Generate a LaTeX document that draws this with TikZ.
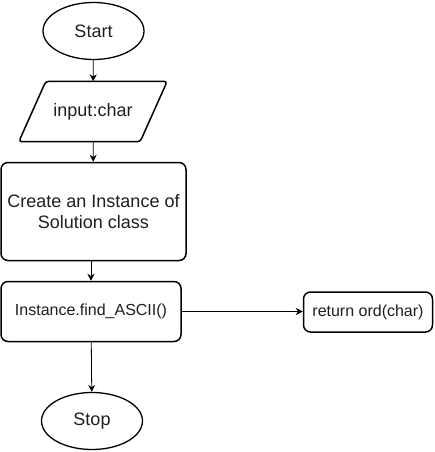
\documentclass[tikz,border=0pt]{standalone}
\usepackage{fontspec}
\setmainfont{Liberation Sans}
\usetikzlibrary{shapes.geometric,arrows.meta}
\definecolor{textgray}{RGB}{30,30,30}

\begin{document}
\begin{tikzpicture}[x=1pt,y=-1pt,font=\fontsize{18}{22}\selectfont,text=textgray,
	terminal/.style={ellipse,draw,line width=1.3pt,minimum width=101pt,minimum height=57pt,inner sep=0pt},
	iobox/.style={line width=1.5pt,rounded corners=3pt},
	procbox/.style={rectangle,draw,line width=1.5pt,rounded corners=7pt,align=center,inner sep=0pt},
	flow/.style={-{Stealth[length=7pt,width=7pt]},line width=.8pt}]
	% draw bounding box
	\useasboundingbox (0,0) rectangle (435,452);

	% draw nodes
	\node[terminal] (start) at (93.5,31) {Start};
	\node[minimum width=121pt,minimum height=60pt,inner sep=0pt] (input) at (93,111.5) {input:char};
	\node[procbox,minimum width=185pt,minimum height=98pt,font=\fontsize{18}{21.5}\selectfont] (create) at (93.5,211.5) {Create an Instance of\\Solution class};
	\node[procbox,minimum width=180pt,minimum height=60pt,font=\fontsize{16}{19}\selectfont] (call) at (91,311.5) {Instance.find\_ASCII()};
	\node[procbox,minimum width=129pt,minimum height=40pt,font=\fontsize{16}{19}\selectfont] (ret) at (368,312) {return ord(char)};
	\node[terminal] (stop) at (92,421) {Stop};

	% draw input box
	\draw[iobox] ([xshift=13.5pt]input.north west) -- ([xshift=13.5pt]input.north east)
		-- ([xshift=-13.5pt]input.south east) -- ([xshift=-13.5pt]input.south west) -- cycle;

	% draw arrows
	\draw[flow] (start) -- (input);
	\draw[flow] (input) -- (create);
	\draw[flow] (create.south -| call.north) -- (call);
	\draw[flow] (call.east) -- (ret.west |- call.east);
	\draw[flow] (call) -- (stop);
\end{tikzpicture}
\end{document}
